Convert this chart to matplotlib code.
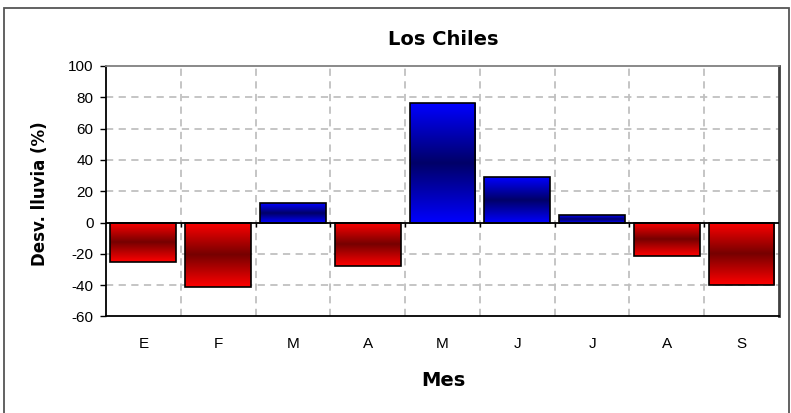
import numpy as np
import matplotlib
matplotlib.use("Agg")
import matplotlib.pyplot as plt
from matplotlib.colors import LinearSegmentedColormap
from matplotlib.patches import Rectangle

# Desviacion de la lluvia mensual en Los Chiles (%)
meses = ['E', 'F', 'M', 'A', 'M', 'J', 'J', 'A', 'S']
desviacion = [-25, -41, 12.5, -28, 76.5, 29, 5, -21.5, -40]
yticks = [-60, -40, -20, 0, 20, 40, 60, 80, 100]

plt.rcParams['font.family'] = ['Liberation Sans', 'DejaVu Sans']
plt.rcParams['axes.unicode_minus'] = False

fig = plt.figure(figsize=(7.91, 4.13), dpi=100)
ax = fig.add_axes([0.134, 0.2337, 0.8508, 0.6065])

# marco exterior de la figura
fig.patches.append(Rectangle((0.005, -0.02), 0.9925, 1.0006, transform=fig.transFigure,
                             fill=False, edgecolor='#555555', lw=1.3))

# degradados: claro en los bordes, oscuro al centro
cmap_azul = LinearSegmentedColormap.from_list('azul', ['#0000ff', '#000068', '#0000ff'])
cmap_rojo = LinearSegmentedColormap.from_list('rojo', ['#ff0000', '#760000', '#ff0000'])
grad = np.linspace(0, 1, 256).reshape(-1, 1)

x = np.arange(len(meses))
ancho = 0.88
barras = ax.bar(x, desviacion, width=ancho, facecolor='none', edgecolor='black', lw=1.2, zorder=4)
for b, v in zip(barras, desviacion):
    x0 = b.get_x()
    x1 = x0 + b.get_width()
    cm = cmap_azul if v > 0 else cmap_rojo
    ax.imshow(grad, cmap=cm, aspect='auto', extent=[x0, x1, 0, v], origin='lower',
              interpolation='bilinear', zorder=3)

ax.set_xlim(-0.5, len(meses) - 0.5)
ax.set_ylim(-60, 100)
ax.set_yticks(yticks)
ax.set_xticks(x)
ax.set_xticklabels(meses)

# cuadricula discontinua
for yv in yticks[1:-1]:
    ax.axhline(yv, color='#c0c0c0', ls=(0, (4, 3)), lw=1.3, zorder=1)
limites = x[:-1] + 0.5
for xv in limites:
    ax.axvline(xv, color='#c0c0c0', ls=(0, (4, 3)), lw=1.3, zorder=1)

# eje en cero con sus marcas
ax.axhline(0, color='black', lw=1.3, zorder=5)
ax.plot(limites, np.zeros(len(limites)), ls='none', marker=3, ms=3, color='black', zorder=5)

ax.tick_params(axis='y', direction='out', length=4, width=1, pad=5, labelsize=11)
ax.tick_params(axis='x', length=0, pad=15, labelsize=11)

for lado in ['left', 'bottom']:
    ax.spines[lado].set_color('black')
    ax.spines[lado].set_linewidth(1.3)
ax.spines['top'].set_color('#808080')
ax.spines['top'].set_linewidth(1.3)
ax.spines['right'].set_color('#404040')
ax.spines['right'].set_linewidth(2)

fig.text(0.56, 0.905, 'Los Chiles', ha='center', va='center', fontsize=14,
         fontweight='bold', family='DejaVu Sans')
fig.text(0.56, 0.078, 'Mes', ha='center', va='center', fontsize=14,
         fontweight='bold', family='DejaVu Sans')
fig.text(0.0506, 0.53, 'Desv. lluvia (%)', ha='center', va='center', rotation=90,
         fontsize=12, fontweight='bold', family='DejaVu Sans')

fig.savefig('out.png', dpi=100)
